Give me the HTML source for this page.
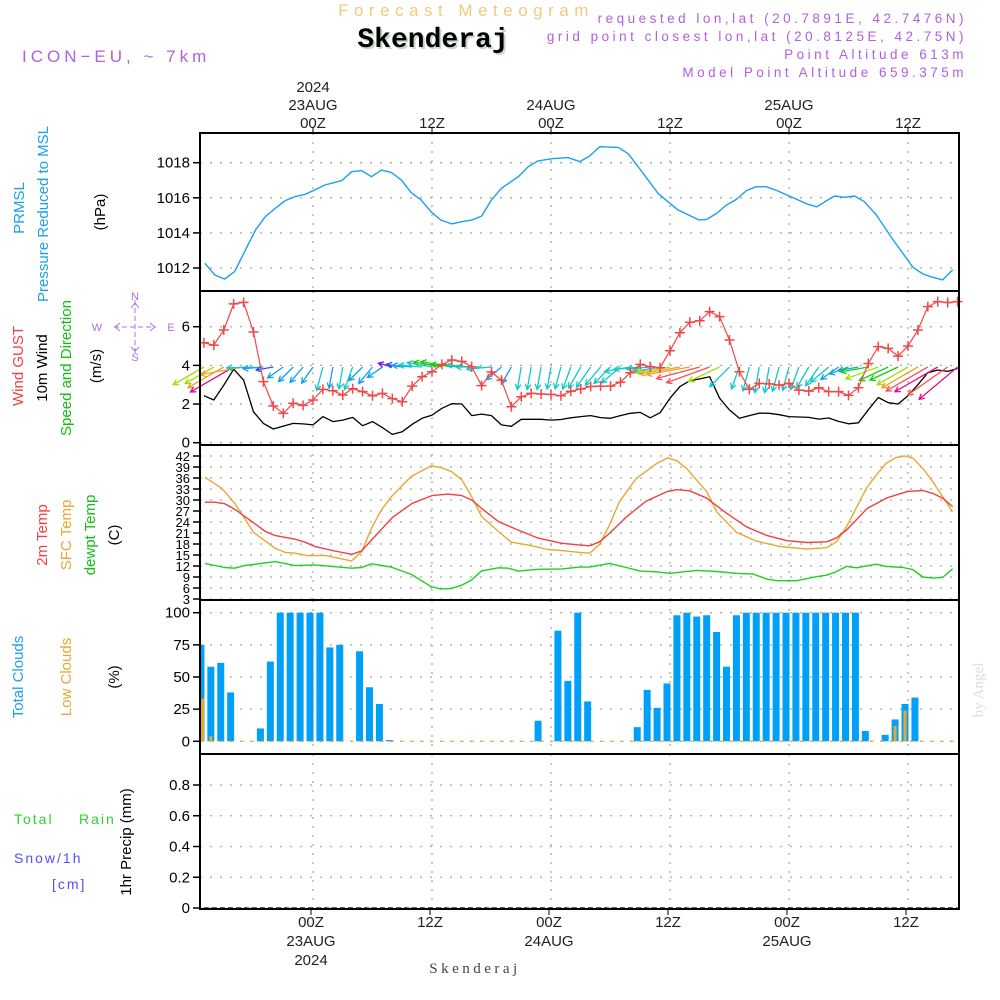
<!DOCTYPE html>
<html><head><meta charset="utf-8"><title>Meteogram Skenderaj</title>
<style>
html,body{margin:0;padding:0;background:#fff;}
svg{display:block;font-family:"Liberation Sans",sans-serif;}
</style></head>
<body>
<svg id="chart" width="1000" height="1000" viewBox="0 0 1000 1000" xmlns="http://www.w3.org/2000/svg">
<rect x="0" y="0" width="1000" height="1000" fill="#fff"/>
<text x="466" y="16" text-anchor="middle" font-size="17" fill="#f2c97e" letter-spacing="5.5">Forecast Meteogram</text>
<text x="435" y="49" text-anchor="middle" font-family="Liberation Mono,monospace" font-weight="bold" font-size="28" fill="#c8d8c8">Skenderaj</text>
<text x="433" y="47" text-anchor="middle" font-family="Liberation Mono,monospace" font-weight="bold" font-size="28" fill="#000">Skenderaj</text>
<text x="22" y="62" font-size="17" fill="#b060e0" letter-spacing="4">ICON−EU, ~ 7km</text>
<g font-size="13.5" fill="#b060e0" text-anchor="end" letter-spacing="3.5">
<text x="967" y="23">requested lon,lat (20.7891E, 42.7476N)</text>
<text x="967" y="41">grid point closest lon,lat (20.8125E, 42.75N)</text>
<text x="967" y="59">Point Altitude 613m</text>
<text x="967" y="77">Model Point Altitude 659.375m</text>
</g>
<g font-size="15" fill="#222" text-anchor="middle">
<text x="313" y="92">2024</text><text x="313" y="110">23AUG</text><text x="313" y="128">00Z</text>
<text x="432" y="128">12Z</text>
<text x="551" y="110">24AUG</text><text x="551" y="128">00Z</text>
<text x="670" y="128">12Z</text>
<text x="789" y="110">25AUG</text><text x="789" y="128">00Z</text>
<text x="908" y="128">12Z</text>
</g>
<g font-size="15" fill="#222" text-anchor="middle">
<text x="311" y="927">00Z</text><text x="311" y="946">23AUG</text><text x="311" y="965">2024</text>
<text x="430" y="927">12Z</text>
<text x="549" y="927">00Z</text><text x="549" y="946">24AUG</text>
<text x="668" y="927">12Z</text>
<text x="787" y="927">00Z</text><text x="787" y="946">25AUG</text>
<text x="906" y="927">12Z</text>
</g>
<text x="475" y="973" text-anchor="middle" font-family="Liberation Serif,serif" font-size="15" fill="#444" letter-spacing="3.5">Skenderaj</text>
<text transform="translate(983,690) rotate(-90)" text-anchor="middle" font-family="Liberation Serif,serif" font-size="15" fill="#ddd">by Angel</text>

<g font-size="15" text-anchor="middle">
<text transform="translate(24,208) rotate(-90)" fill="#1aa0f0">PRMSL</text>
<text transform="translate(48,214) rotate(-90)" fill="#1aa0f0">Pressure Reduced to MSL</text>
<text transform="translate(105,212) rotate(-90)" fill="#000">(hPa)</text>
<text transform="translate(23,366) rotate(-90)" fill="#f04040">Wind GUST</text>
<text transform="translate(47,368) rotate(-90)" fill="#000">10m Wind</text>
<text transform="translate(71,368) rotate(-90)" fill="#10c010">Speed and Direction</text>
<text transform="translate(101,366) rotate(-90)" fill="#000">(m/s)</text>
<text transform="translate(47,535) rotate(-90)" fill="#f04040">2m Temp</text>
<text transform="translate(71,535) rotate(-90)" fill="#e8a830">SFC Temp</text>
<text transform="translate(95,535) rotate(-90)" fill="#10c010">dewpt Temp</text>
<text transform="translate(119,535) rotate(-90)" fill="#000">(C)</text>
<text transform="translate(23,677) rotate(-90)" fill="#1aa0f0">Total Clouds</text>
<text transform="translate(71,677) rotate(-90)" fill="#e8a830">Low Clouds</text>
<text transform="translate(119,677) rotate(-90)" fill="#000">(%)</text>
<text transform="translate(131,842) rotate(-90)" fill="#000">1hr Precip (mm)</text>
</g>
<g font-size="14" letter-spacing="2">
<text x="14" y="824" fill="#30d030">Total</text><text x="79" y="824" fill="#30d030">Rain</text>
<text x="14" y="863" fill="#5050ff">Snow/1h</text>
<text x="52" y="889" fill="#5050ff">[cm]</text>
</g>
<g stroke="#b070e0" fill="none" stroke-width="1">
<line x1="114" y1="327" x2="156" y2="327" stroke-dasharray="5,3"/>
<line x1="135" y1="300" x2="135" y2="353" stroke-dasharray="5,3"/>
<polyline points="120,323 115,327 120,331"/><polyline points="150,323 155,327 150,331"/>
<polyline points="131,308 135,303 139,308"/><polyline points="131,347 135,351 139,347"/>
</g>
<g font-size="11" fill="#b070e0" text-anchor="middle">
<text x="97" y="331">W</text><text x="171" y="331">E</text><text x="135" y="300">N</text><text x="135" y="361">S</text>
</g>

<g id="grid"></g>
<g id="marks"></g>
<g id="frames"></g>
<g id="ticks"></g>
</svg>
<script>
// ---------- data ----------
const pressHours = [-10.9,-9.9,-8.9,-7.9,-6.9,-5.8,-4.8,-3.8,-2.8,-1.8,-0.8,0.2,1.2,2.9,3.9,4.9,5.9,6.9,7.9,8.9,9.9,10.9,11.9,12.9,14.0,15.0,16.0,17.0,18.0,19.0,20.7,21.7,22.7,24.1,25.7,26.9,27.9,28.9,30.8,31.8,33.3,34.8,36.8,38.9,39.7,40.7,41.7,42.7,43.7,44.7,45.7,46.8,47.8,49.8,50.8,51.8,52.6,53.6,54.6,55.6,56.8,58.5,60.5,61.5,62.5,63.5,64.5];
const pressValues = [1012.27,1011.6,1011.37,1011.8,1012.93,1014.17,1014.93,1015.4,1015.84,1016.07,1016.2,1016.45,1016.73,1016.98,1017.49,1017.55,1017.2,1017.58,1017.45,1017.02,1016.29,1015.88,1015.21,1014.73,1014.51,1014.64,1014.73,1014.96,1015.88,1016.54,1017.2,1017.77,1018.1,1018.23,1018.29,1018.06,1018.38,1018.91,1018.87,1018.5,1017.39,1016.25,1015.31,1014.74,1014.77,1015.11,1015.59,1015.91,1016.41,1016.63,1016.63,1016.41,1016.16,1015.65,1015.49,1015.84,1016.1,1016.03,1016.1,1015.78,1015.02,1013.6,1012.04,1011.66,1011.47,1011.32,1011.89];
const pressTicks = [1012,1014,1016,1018];

const hours = [-11,-10,-9,-8,-7,-6,-5,-4,-3,-2,-1,0,1,2,3,4,5,6,7,8,9,10,11,12,13,14,15,16,17,18,19,20,21,22,23,24,25,26,27,28,29,30,31,32,33,34,35,36,37,38,39,40,41,42,43,44,45,46,47,48,49,50,51,52,53,54,55,56,57,58,59,60,61,62,63,64,65];
const gustValues = [5.17,5.05,5.83,7.18,7.26,5.73,3.16,1.90,1.52,2.04,1.93,2.21,2.76,2.69,2.47,2.79,2.64,2.43,2.55,2.28,2.12,2.93,3.41,3.67,4.05,4.28,4.21,3.93,2.95,3.66,3.24,1.86,2.38,2.55,2.52,2.50,2.43,2.66,2.78,2.91,2.93,2.93,3.13,3.62,4.05,3.93,3.88,4.76,5.69,6.23,6.31,6.78,6.52,5.31,3.67,2.76,3.07,3.04,2.98,3.07,2.72,2.67,2.84,2.64,2.64,2.45,2.84,4.10,4.97,4.88,4.48,5.00,5.83,7.04,7.30,7.25,7.30];
const windValues = [2.43,2.21,2.98,3.8,3.24,1.6,1.0,0.71,0.86,1.0,0.97,0.92,1.35,1.09,1.17,1.31,0.88,1.09,0.78,0.43,0.57,0.95,1.26,1.43,1.78,2.02,2.0,1.40,1.48,1.40,0.92,0.85,1.21,1.21,1.21,1.17,1.2,1.29,1.35,1.40,1.3,1.26,1.4,1.52,1.57,1.29,1.55,2.3,2.90,3.21,3.3,3.41,2.3,1.69,1.26,1.4,1.53,1.52,1.45,1.35,1.33,1.31,1.22,1.28,1.1,0.98,1.03,1.7,2.34,2.07,2.0,2.43,3.0,3.62,3.76,3.69,3.84];
const windDir = [60,60,60,60,80,88,85,80,55,45,40,35,15,10,10,20,45,40,55,105,100,95,95,100,100,100,95,95,90,85,50,30,10,10,10,10,15,20,30,35,40,45,50,80,85,85,80,80,80,80,75,70,65,45,20,15,10,10,15,15,20,30,35,50,55,70,80,80,70,65,65,60,60,60,60,55,50];
const windTicks = [0,2,4,6];

const t2mHours = [-10.9,-9.9,-8.9,-7.9,-5.8,-4.8,-3.8,-1.8,-0.8,0.2,2.2,3.9,4.9,5.9,8.0,10.0,12.0,13.6,15.0,16.0,17.0,18.7,20.7,22.7,25.1,26.9,27.9,28.9,29.9,31.6,33.6,35.7,36.7,38.0,39.7,41.7,43.7,45.8,47.8,49.8,51.8,52.8,53.8,55.9,57.9,59.9,61.5,62.5,63.5,64.5];
const t2mValues = [29.4,29.4,29.0,27.5,23.4,21.4,20.3,19.3,18.5,17.3,16.1,15.2,16.1,19.1,25.2,29.1,31.2,31.6,31.2,30.0,27.7,24.1,21.8,19.6,18.2,17.7,17.5,18.6,20.9,25.4,29.7,32.3,32.8,32.5,30.5,26.4,22.7,20.3,18.9,18.4,18.6,19.7,21.8,27.7,30.6,32.3,32.6,31.8,30.5,28.2];
const sfcHours = [-10.9,-9.2,-7.9,-6.0,-3.8,-2.8,-1.8,-0.5,1.2,3.9,4.9,5.9,6.9,7.9,9.9,11.9,12.9,14.0,15.0,16.0,17.0,18.7,20.0,21.7,23.7,25.1,26.9,27.9,28.9,29.9,30.9,32.6,34.7,35.8,36.7,37.7,39.7,40.7,42.7,44.7,47.1,49.8,51.8,52.8,53.8,55.8,56.8,57.8,58.8,59.7,60.5,61.5,62.5,63.5,64.5];
const sfcValues = [36.2,33.2,29.1,21.2,16.8,15.7,15.5,14.8,14.9,13.4,15.9,22.3,27.3,30.9,36.4,39.3,38.9,37.7,35.5,30.9,25.5,21.4,18.5,17.7,16.5,16.2,15.7,15.5,17.9,23.2,29.5,35.9,40.0,41.5,40.7,38.5,32.3,26.8,21.2,18.8,17.3,16.6,17.0,18.6,22.7,33.2,36.8,40.0,41.6,42.0,41.4,38.6,35.0,30.9,26.8];
const dewHours = [-10.9,-8.9,-7.9,-6.9,-3.8,-1.8,0.2,2.2,3.9,4.9,5.9,7.9,9.9,11.9,12.9,14.0,15.0,16.0,17.0,18.7,19.7,20.7,22.7,25.1,26.9,27.9,29.9,31.6,33.0,34.7,36.0,38.7,40.7,42.7,44.4,45.8,46.8,48.8,50.8,51.8,52.8,53.8,54.8,56.8,57.8,59.5,60.5,61.5,62.5,63.5,64.5];
const dewValues = [12.7,11.6,11.4,12.1,13.2,12.1,12.3,11.8,11.4,11.6,12.6,11.7,9.7,6.4,5.7,5.9,6.8,8.2,10.7,11.5,11.4,10.6,11.1,11.2,11.7,11.7,12.7,11.6,10.6,10.4,10.0,10.8,10.5,10.0,9.8,8.4,8.0,8.0,9.1,9.5,10.5,11.9,11.5,12.5,11.9,11.6,11.0,9.0,8.7,8.9,11.2];
const tempTicks = [3,6,9,12,15,18,21,24,27,30,33,36,39,42];

const cloudHours = [-11,-10,-9,-8,-7,-6,-5,-4,-3,-2,-1,0,1,2,3,4,5,6,7,8,9,10,11,12,13,14,15,16,17,18,19,20,21,22,23,24,25,26,27,28,29,30,31,32,33,34,35,36,37,38,39,40,41,42,43,44,45,46,47,48,49,50,51,52,53,54,55,56,57,58,59,60,61,62,63,64];
const totalClouds = [75,58,61,38,0,0,10,62,100,100,100,100,100,73,75,0,70,42,29,1,0,0,0,0,0,0,0,0,0,0,0,0,0,0,16,0,86,47,100,31,0,0,0,0,11,40,26,45,98,100,97,98,85,58,98,100,100,100,100,100,100,100,100,100,100,100,100,8,0,5,17,29,34,0,0,0];
const lowClouds = [33,4,0,0,0,0,0,0,0,0,0,0,0,0,0,0,0,0,0,0,0,0,0,0,0,0,0,0,0,0,0,0,0,0,0,0,0,0,0,0,0,0,0,0,0,0,0,0,0,0,0,0,0,0,0,0,0,0,0,0,0,0,0,0,0,0,0,0,0,0,12,24,0,0,0,0];
const cloudTicks = [0,25,50,75,100];

const precipValues = hours.map(() => 0);
const precipTicks = [0,0.2,0.4,0.6,0.8];
const timeGridHours = [0,12,24,36,48,60];

// ---------- scales ----------
const L = 200, R = 959;
const xOf = h => 313 + h * 119 / 12;
const yP = p => 162.7 + (1018 - p) * 17.55;
const yW = v => 442.7 - v * 19.33;
const yT = t => 456 + (42 - t) * 11 / 3;
const yC = c => 741.3 - c * 1.286;
const yR = r => 908 - r * 153.75;
const NS = "http://www.w3.org/2000/svg";
function mk(tag, attrs, parent){ const e=document.createElementNS(NS,tag); for(const k in attrs) e.setAttribute(k,attrs[k]); parent.appendChild(e); return e; }
const grid = document.getElementById('grid'), marks = document.getElementById('marks'), frames = document.getElementById('frames'), ticks = document.getElementById('ticks');

const panels = [
 {top:133,bot:291,ticks:pressTicks,y:yP,fmt:v=>String(v),name:'pressure'},
 {top:291,bot:445,ticks:windTicks,y:yW,fmt:v=>String(v),name:'wind'},
 {top:445,bot:600,ticks:tempTicks,y:yT,fmt:v=>String(v),name:'temperature'},
 {top:600,bot:754,ticks:cloudTicks,y:yC,fmt:v=>String(v),name:'clouds'},
 {top:754,bot:909,ticks:precipTicks,y:yR,fmt:v=>v===0?'0':v.toFixed(1),name:'precip'}
];
panels.forEach(p=>{
  timeGridHours.forEach(h=>{
    const ln = mk('line',{x1:xOf(h),x2:xOf(h),y1:p.top,y2:p.bot,stroke:'#aaa','stroke-width':1.3,'stroke-dasharray':'2,7'},grid);
    
    
  });
  p.ticks.forEach(v=>{
    const y = p.y(v);
    const g = mk('line',{x1:L,x2:R,y1:y,y2:y,stroke:'#aaa','stroke-width':1.3,'stroke-dasharray':'2,8'},grid);
    
    
    const t = mk('line',{x1:L-7,x2:L,y1:y,y2:y,stroke:'#000','stroke-width':1.5},ticks);
    
    
    const lbl = mk('text',{x:L-10,y:y+5,'text-anchor':'end','font-size':p.name==='temperature'?13:15,fill:'#000'},ticks);
    lbl.textContent = p.fmt(v);
    
    
  });
  const fr = mk('rect',{x:L,y:p.top,width:R-L,height:p.bot-p.top,fill:'none',stroke:'#000','stroke-width':2},frames);
  
  
});
timeGridHours.forEach(h=>{
  const t = mk('line',{x1:xOf(h),x2:xOf(h),y1:127,y2:133,stroke:'#000','stroke-width':1},ticks);
  
  
  const b = mk('line',{x1:xOf(h)-2,x2:xOf(h)-2,y1:909,y2:915,stroke:'#000','stroke-width':1},ticks);
  
  
});

function line(hs, vs, yf, color, name, w){
  const pts = hs.map((h,i)=>xOf(h).toFixed(1)+','+yf(vs[i]).toFixed(1)).join(' ');
  const pl = mk('polyline',{points:pts,fill:'none',stroke:color,'stroke-width':w||1.4,'stroke-linejoin':'round'},marks);
  
  
}
line(pressHours, pressValues, yP, '#1aa0f0', 'pressure-line');
line(sfcHours, sfcValues, yT, '#e8a830', 'sfc-temp-line');
line(t2mHours, t2mValues, yT, '#f04040', 't2m-line');
line(dewHours, dewValues, yT, '#20d020', 'dewpoint-line');
line(hours, windValues, yW, '#000', 'wind-speed-line', 1.3);
// wind arrows
const speedStops = [0,0.55,0.75,1.15,1.7,2.1,2.5,2.9,3.3,3.7];
const speedColors = ['#8010f0','#2050ff','#10a0f0','#10c8c8','#10d010','#a0e000','#e0e020','#f0a020','#ff5050','#e0108a'];
function colorFor(s){ let c=speedColors[0]; speedStops.forEach((st,i)=>{ if(s>=st) c=speedColors[i]; }); return c; }
hours.forEach((h,i)=>{
  const s = windValues[i], d = windDir[i]*Math.PI/180, len = 10 + 10.5*s;
  const x0 = xOf(h), y0 = 367;
  const dx = -Math.sin(d)*len, dy = Math.cos(d)*len;
  const x1 = x0+dx, y1 = y0+dy;
  const col = colorFor(s);
  const a = Math.atan2(dy,dx);
  const hx1 = x1 - 6*Math.cos(a-0.5), hy1 = y1 - 6*Math.sin(a-0.5);
  const hx2 = x1 - 6*Math.cos(a+0.5), hy2 = y1 - 6*Math.sin(a+0.5);
  const g = mk('path',{d:`M${x0},${y0}L${x1},${y1}M${hx1},${hy1}L${x1},${y1}L${hx2},${hy2}`,stroke:col,'stroke-width':1.3,fill:'none'},marks);
  
  
});
line(hours, gustValues, yW, '#f04848', 'gust-line', 1.2);
hours.forEach((h,i)=>{
  const x=xOf(h), y=yW(gustValues[i]);
  const m = mk('path',{d:`M${x-5},${y}H${x+5}M${x},${y-5}V${y+5}`,stroke:'#f04848','stroke-width':1.5},marks);
  
  
});
// clouds
cloudHours.forEach((h,i)=>{
  const xc = xOf(h)-3;
  const x = Math.max(L+1, xc-3.5), w = Math.min(xc+3.5, R) - x;
  if(totalClouds[i]>0){
    const b = mk('rect',{x:x,y:yC(totalClouds[i]),width:w,height:yC(0)-yC(totalClouds[i]),fill:'#00a0f8'},marks);
    
    
  }
  const lw = 3, lx = Math.max(L+1, xc-1.5);
  if(lowClouds[i]>0){
    const b2 = mk('rect',{x:lx,y:yC(lowClouds[i]),width:lw,height:yC(0)-yC(lowClouds[i]),fill:'#e8a830'},marks);
    
    
  }
});
const zl = mk('line',{x1:L,x2:R,y1:yC(0),y2:yC(0),stroke:'#e8a830','stroke-width':1,'stroke-dasharray':'4,6'},marks);


const pr = mk('polyline',{points:hours.map((h,i)=>xOf(h)+','+yR(precipValues[i])).join(' '),fill:'none',stroke:'#000','stroke-width':1.2,'stroke-dasharray':'5,3'},marks);


</script>
</body></html>
